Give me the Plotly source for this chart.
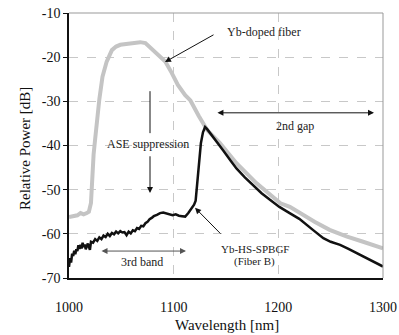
import plotly.graph_objects as go

# Yb-doped fiber (gray)
yb_wl = [1000, 1004, 1008, 1011, 1014, 1017, 1019, 1021, 1022, 1023.5, 1025, 1027, 1029, 1032, 1036, 1041,
         1045, 1049, 1055, 1062, 1068, 1073, 1080, 1086, 1092, 1098, 1104, 1111, 1116, 1124, 1132, 1144,
         1160, 1179, 1190, 1202, 1211, 1221, 1235, 1249, 1265, 1281, 1290, 1300]
yb_pw = [-56.2, -56.1, -55.8, -55.3, -55.6, -55.3, -55.0, -53.0, -48.0, -42.0, -38.5, -33.5, -29.5, -24.4, -21.0, -18.4,
         -17.6, -17.2, -17.0, -16.8, -16.6, -16.8, -18.4, -19.8, -21.0, -23.5, -26.3, -28.6, -29.8, -33.3, -36.5, -39.4,
         -44.0, -48.5, -50.8, -53.1, -53.9, -55.4, -57.3, -59.1, -60.6, -61.8, -62.6, -63.3]

# Yb-HS-SPBGF (Fiber B) (black)
hs_wl = [1000, 1001, 1002, 1003, 1004, 1005, 1006, 1007, 1008, 1009, 1010, 1011, 1012, 1013, 1014, 1015, 1016,
         1018, 1020, 1021, 1023, 1025, 1027, 1029, 1031, 1033, 1035, 1037, 1039, 1041, 1043, 1045, 1047, 1049,
         1051, 1053, 1055, 1057, 1059, 1061, 1063, 1065, 1067, 1069, 1071, 1073, 1075, 1077, 1079, 1081, 1084,
         1087, 1090, 1093, 1096, 1099, 1102, 1105, 1108, 1111, 1114, 1117, 1119.5, 1121, 1122.5, 1124, 1126,
         1128, 1130, 1132, 1135, 1140, 1147, 1155, 1160, 1168, 1176, 1184, 1192, 1201, 1210, 1220, 1233, 1243,
         1250, 1259, 1267, 1275, 1288, 1300]
hs_pw = [-67.5, -65.5, -66.5, -64.5, -65.0, -63.8, -64.6, -63.5, -63.9, -62.6, -63.4, -62.5, -63.3, -62.0, -63.0, -62.4, -63.5,
         -62.2, -63.6, -61.8, -62.0, -61.2, -61.6, -60.8, -61.2, -60.4, -60.7, -60.0, -60.5, -59.8, -60.1, -59.5, -59.9, -59.4,
         -59.7, -59.6, -60.3, -59.5, -59.9, -59.2, -59.4, -58.7, -58.9, -58.2, -58.3, -57.6, -57.3, -56.7, -56.4, -56.0, -55.7,
         -55.3, -55.2, -55.4, -55.5, -55.8, -55.6, -55.9, -56.0, -56.1, -55.3, -54.3, -53.4, -52.5, -48.0, -44.0, -39.5,
         -37.0, -35.8, -36.3, -37.2, -38.8, -41.0, -43.6, -45.2, -47.2, -49.0, -50.8, -52.3, -53.9, -55.2, -56.6, -59.1, -61.0,
         -61.8, -62.5, -63.4, -64.4, -65.9, -67.4]

x_ticks = [1000, 1100, 1200, 1300]
y_ticks = [-10, -20, -30, -40, -50, -60, -70]

FONT = "Liberation Serif, Times New Roman, Times, serif"

fig = go.Figure()
fig.add_trace(go.Scatter(x=yb_wl, y=yb_pw, mode="lines", line=dict(color="#c4c4c4", width=4), showlegend=False))
fig.add_trace(go.Scatter(x=hs_wl, y=hs_pw, mode="lines", line=dict(color="#111111", width=2.5), showlegend=False))

ann = []
txt = dict(size=12, color="#222222", family=FONT)
txt_s = dict(size=11, color="#222222", family=FONT)
ann.append(dict(x=1149, y=-14.3, text="Yb-doped fiber", showarrow=False, xanchor="left", font=txt))
ann.append(dict(x=1091.7, y=-21.1, ax=1139.5, ay=-14.75, axref="x", ayref="y", text="", showarrow=True,
                arrowhead=2, arrowsize=1.2, arrowwidth=1, arrowcolor="#111111"))
ann.append(dict(x=1075.5, y=-39.7, text="ASE suppression", showarrow=False, font=txt))
ann.append(dict(x=1077.4, y=-50.75, ax=1077.4, ay=-42.1, axref="x", ayref="y", text="", showarrow=True,
                arrowhead=2, arrowsize=1.2, arrowwidth=1, arrowcolor="#111111"))
ann.append(dict(x=1291.4, y=-32.6, ax=1140.4, ay=-32.6, axref="x", ayref="y", text="", showarrow=True,
                arrowhead=2, startarrowhead=2, arrowside="end+start", arrowsize=1.2, startarrowsize=1.2,
                arrowwidth=1, arrowcolor="#111111"))
ann.append(dict(x=1216, y=-35.6, text="2nd gap", showarrow=False, font=txt))
ann.append(dict(x=1111.8, y=-63.9, ax=1029.6, ay=-63.9, axref="x", ayref="y", text="", showarrow=True,
                arrowhead=2, startarrowhead=2, arrowside="end+start", arrowsize=1.2, startarrowsize=1.2,
                arrowwidth=1, arrowcolor="#555555"))
ann.append(dict(x=1069.7, y=-66.4, text="3rd band", showarrow=False, font=txt))
ann.append(dict(x=1177.7, y=-63.4, text="Yb-HS-SPBGF", showarrow=False, font=txt_s))
ann.append(dict(x=1177.7, y=-66.2, text="(Fiber B)", showarrow=False, font=txt_s))
ann.append(dict(x=1120.4, y=-54.1, ax=1146.2, ay=-60.3, axref="x", ayref="y", text="", showarrow=True,
                arrowhead=2, arrowsize=1.2, arrowwidth=1, arrowcolor="#111111"))
# axis titles
ann.append(dict(xref="paper", yref="paper", x=-0.1401, y=0.4868, text="Relative Power [dB]", textangle=-90,
                showarrow=False, xanchor="center", yanchor="middle", font=dict(size=15, color="#111111", family=FONT)))
ann.append(dict(xref="paper", yref="paper", x=0.503, y=-0.1774, text="Wavelength [nm]",
                showarrow=False, xanchor="center", yanchor="middle", font=dict(size=15, color="#111111", family=FONT)))

fig.update_layout(
    width=399, height=335,
    margin=dict(l=69, r=16, t=13, b=57, autoexpand=False),
    paper_bgcolor="white", plot_bgcolor="white",
    font=dict(family=FONT, size=14, color="#111111"),
    annotations=ann,
    shapes=[dict(type="line", xref="x", yref="y", x0=1077.4, x1=1077.4, y0=-27.7, y1=-37.2,
                 line=dict(color="#111111", width=1)),
            dict(type="line", xref="paper", yref="paper", x0=0, x1=1, y0=1, y1=1, line=dict(color="#999999", width=1)),
            dict(type="line", xref="paper", yref="paper", x0=1, x1=1, y0=0, y1=1, line=dict(color="#999999", width=1))],
)
fig.update_xaxes(range=[1000, 1300], tickvals=x_ticks, ticktext=[str(v) for v in x_ticks],
                 showgrid=True, gridcolor="#c8c8c8", griddash="dash", gridwidth=1,
                 showline=True, linecolor="#111111", linewidth=1.5, ticks="outside", ticklen=15,
                 tickcolor="rgba(0,0,0,0)", zeroline=False, automargin=False,
                 tickfont=dict(size=14, family=FONT))
fig.update_yaxes(range=[-70, -10], tickvals=y_ticks, ticktext=[str(v) for v in y_ticks],
                 showgrid=True, gridcolor="#c8c8c8", griddash="dash", gridwidth=1,
                 showline=True, linecolor="#111111", linewidth=1.5, ticks="outside", ticklen=4,
                 tickcolor="#111111", zeroline=False, automargin=False,
                 tickfont=dict(size=14, family=FONT))

fig.write_html("out.html")
